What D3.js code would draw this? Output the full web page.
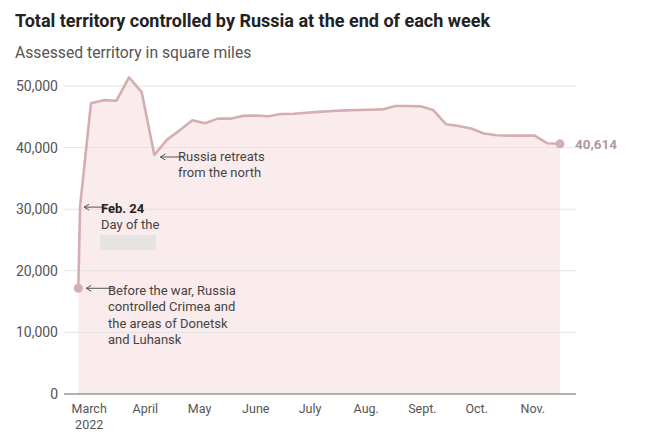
<!DOCTYPE html>
<html>
<head>
<meta charset="utf-8">
<script src="https://cdn.jsdelivr.net/npm/d3@7"></script>
<style>
  body { margin: 0; background: #fff; }
  text { font-family: Roboto, "Liberation Sans", sans-serif; }
</style>
</head>
<body>
<div id="chart"></div>
<script>
// Data
var startDates = ["2022-02-23", "2022-02-24"];
var startValues = [17160, 30500];
var weekValues = [47200, 47700, 47600, 51400, 49000, 38800, 41300, 42800, 44450, 43950,
                  44700, 44700, 45150, 45200, 45100, 45450, 45500, 45650, 45800, 45950,
                  46050, 46100, 46150, 46200, 46750, 46750, 46700, 46100, 43800, 43500,
                  43100, 42300, 42000, 41950, 41950, 41950, 40700, 40614];
var firstWeek = "2022-03-02";
var yTicks = [0, 10000, 20000, 30000, 40000, 50000];
var monthTicks = ["2022-03-01", "2022-04-01", "2022-05-01", "2022-06-01", "2022-07-01",
                  "2022-08-01", "2022-09-01", "2022-10-01", "2022-11-01"];
var monthLabels = ["March", "April", "May", "June", "July", "Aug.", "Sept.", "Oct.", "Nov."];

var parse = d3.timeParse("%Y-%m-%d");
var data = [];
startDates.forEach(function(d, i) { data.push({date: parse(d), value: startValues[i]}); });
weekValues.forEach(function(v, i) {
    data.push({date: d3.timeDay.offset(parse(firstWeek), i * 7), value: v});
});

var width = 660, height = 439;
var svg = d3.select("#chart").append("svg")
    .attr("width", width)
    .attr("height", height);

var x = d3.scaleTime()
    .domain([parse("2022-02-23"), parse("2022-11-16")])
    .range([78.3, 560]);
var y = d3.scaleLinear()
    .domain([0, 50000])
    .range([394, 86]);

// Title
svg.append("text")
   .attr("x", 15).attr("y", 27)
   .style("font-size", "18px").style("font-weight", "bold").style("fill", "#222")
   .text("Total territory controlled by Russia at the end of each week");
svg.append("text")
   .attr("x", 15).attr("y", 58)
   .style("font-size", "15.7px").style("fill", "#555")
   .text("Assessed territory in square miles");

// Grid
var grid = svg.append("g");
grid.selectAll("line")
    .data(yTicks.filter(function(d) { return d > 0; }))
    .enter().append("line")
    .attr("x1", 64).attr("x2", 576)
    .attr("y1", function(d) { return y(d); })
    .attr("y2", function(d) { return y(d); })
    .style("stroke", "#e3e3e3").style("stroke-width", 1);

// Area + line
var area = d3.area()
    .x(function(d) { return x(d.date); })
    .y0(y(0))
    .y1(function(d) { return y(d.value); });
var line = d3.line()
    .x(function(d) { return x(d.date); })
    .y(function(d) { return y(d.value); });

svg.append("path").datum(data)
   .attr("d", area)
   .style("fill", "#f9eaea").style("opacity", 0.9);

// grid over fill (faint)
grid.raise();

svg.append("path").datum(data)
   .attr("d", line)
   .style("fill", "none").style("stroke", "#d5aeb1").style("stroke-width", 2.6)
   .style("stroke-linejoin", "round");

// dots
var first = data[0], last = data[data.length - 1];
[first, last].forEach(function(d) {
    svg.append("circle")
       .attr("cx", x(d.date)).attr("cy", y(d.value)).attr("r", 4.5)
       .style("fill", "#d5aeb1");
});

svg.append("text")
   .attr("x", 575).attr("y", y(last.value) + 5)
   .style("font-size", "13.5px").style("font-weight", "bold").style("fill", "#b3979a")
   .text(d3.format(",")(last.value));

// Y labels
svg.append("g").selectAll("text")
   .data(yTicks).enter().append("text")
   .attr("x", 58).attr("y", function(d) { return y(d) + 5; })
   .attr("text-anchor", "end")
   .style("font-size", "14px").style("fill", "#555")
   .text(function(d) { return d3.format(",")(d); });

// baseline
svg.append("line")
   .attr("x1", 64).attr("x2", 576)
   .attr("y1", y(0)).attr("y2", y(0))
   .style("stroke", "#666").style("stroke-width", 1.2);

// X labels
var xl = svg.append("g");
xl.selectAll("text")
  .data(monthTicks).enter().append("text")
  .attr("x", function(d) { return x(parse(d)); })
  .attr("y", 413)
  .attr("text-anchor", "middle")
  .style("font-size", "12.5px").style("fill", "#555")
  .text(function(d, i) { return monthLabels[i]; });
xl.append("text")
  .attr("x", x(parse(monthTicks[0]))).attr("y", 429)
  .attr("text-anchor", "middle")
  .style("font-size", "12.5px").style("fill", "#555")
  .text("2022");

// Annotations
function arrow(x1, x2, yy) {
    svg.append("line").attr("x1", x1).attr("x2", x2).attr("y1", yy).attr("y2", yy)
       .style("stroke", "#444").style("stroke-width", 0.9);
    svg.append("path")
       .attr("d", "M" + (x1 + 5) + "," + (yy - 3) + "L" + x1 + "," + yy + "L" + (x1 + 5) + "," + (yy + 3))
       .style("fill", "none").style("stroke", "#444").style("stroke-width", 0.9);
}
function note(x0, y0, lines, boldFirst) {
    var t = svg.append("text").attr("x", x0).attr("y", y0)
        .style("font-size", "13px").style("fill", "#444");
    lines.forEach(function(s, i) {
        t.append("tspan").attr("x", x0).attr("dy", i === 0 ? 0 : 16.3)
         .style("font-weight", (boldFirst && i === 0) ? "bold" : "normal")
         .style("fill", (boldFirst && i === 0) ? "#222" : "#444")
         .text(s);
    });
}

var retreat = data[2 + 5];
arrow(x(retreat.date) + 6, 184, y(retreat.value) + 2);
note(178, 161, ["Russia retreats", "from the north"], false);

arrow(x(data[1].date) + 4, 106, y(data[1].value) + 1);
note(101, 213, ["Feb. 24", "Day of the"], true);
svg.append("rect").attr("x", 100).attr("y", 235).attr("width", 56).attr("height", 15)
   .style("fill", "#e8e3e3");

arrow(x(first.date) + 8, 114, y(first.value));
note(108, 295, ["Before the war, Russia", "controlled Crimea and", "the areas of Donetsk", "and Luhansk"], false);
</script>
</body>
</html>
